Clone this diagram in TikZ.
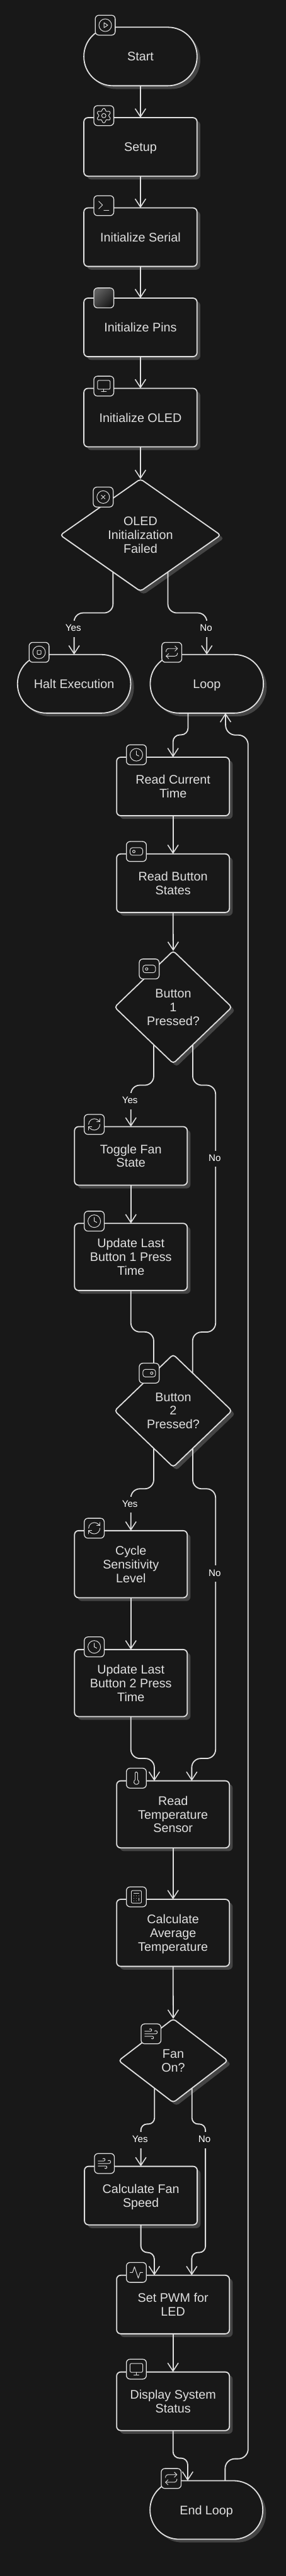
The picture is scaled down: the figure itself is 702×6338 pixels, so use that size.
\documentclass[tikz,border=0pt]{standalone}
\usepackage{fontspec}
\setmainfont{Liberation Sans}
\usetikzlibrary{arrows.meta,shapes.geometric,svg.path,calc}
\definecolor{bgc}{HTML}{181818}
\definecolor{fgc}{HTML}{E0E0E0}
\definecolor{shc}{HTML}{444444}
\pgfdeclarelayer{back}
\pgfdeclarelayer{edges}
\pgfsetlayers{back,edges,main}
\tikzset{
  x=1pt,y=-1pt,
  every node/.style={font=\fontsize{30.6}{33.8}\selectfont,text=fgc,inner sep=0pt,outer sep=0pt},
  rectbox/.style={rectangle,rounded corners=10pt},
  pill/.style={rectangle,rounded corners=71.5pt},
  decision/.style={diamond,rounded corners=7pt,aspect=#1},
  visible/.style={draw=fgc,line width=2.8pt,fill=bgc,align=center},
  shadowed/.style={fill=shc},
  edge/.style={draw=fgc,line width=2.8pt,-{Straight Barb[length=20pt,width=26pt,line width=2.4pt]}},
  edgelabel/.style={font=\fontsize{23.5}{26}\selectfont,fill=bgc,text=white,minimum height=40pt,minimum width=10pt,inner xsep=3pt},
  iconbox/.style={draw=fgc,line width=2pt,fill=bgc,rounded corners=9pt,minimum width=49pt,minimum height=49pt},
  glyph/.style={draw=fgc,line width=1.5pt,line cap=round,line join=round},
}
\newcommand\nd[1]{\raisebox{0pt}[\height][0pt]{#1}}
\newcommand\flownode[7]{%
  \begin{pgfonlayer}{back}
    \node[#2,shadowed,minimum width=#5pt,minimum height=#6pt] (#1-sh) at (#3+8,#4+8) {};
  \end{pgfonlayer}
  \node[#2,visible,minimum width=#5pt,minimum height=#6pt] (#1) at (#3,#4) {#7};}
\newcommand\iconat[4]{%
  \node[iconbox] (#1) at (#2,#3) {};
  \begin{scope}[shift={(#2,#3)},xscale=1.55,yscale=1.55,shift={(-12pt,12pt)},yscale=-1]
    #4
  \end{scope}}
\newcommand\icirc[1][10]{\draw[glyph] (12pt,12pt) circle[radius=#1pt];}
\newcommand\gl[1]{\draw[glyph] svg {#1};}
\newcommand\iplay{\icirc\gl{M 10 8 L 16 12 L 10 16 Z}}
\newcommand\igear{\begin{scope}[shift={(12pt,12pt)},scale=1.14,shift={(-12pt,-12pt)}]\gl{M 12.22 2 h -0.44 a 2 2 0 0 0 -2 2 v 0.18 a 2 2 0 0 1 -1 1.73 l -0.43 0.25 a 2 2 0 0 1 -2 0 l -0.15 -0.08 a 2 2 0 0 0 -2.73 0.73 l -0.22 0.38 a 2 2 0 0 0 0.73 2.73 l 0.15 0.1 a 2 2 0 0 1 1 1.72 v 0.51 a 2 2 0 0 1 -1 1.74 l -0.15 0.09 a 2 2 0 0 0 -0.73 2.73 l 0.22 0.38 a 2 2 0 0 0 2.73 0.73 l 0.15 -0.08 a 2 2 0 0 1 2 0 l 0.43 0.25 a 2 2 0 0 1 1 1.73 V 20 a 2 2 0 0 0 2 2 h 0.44 a 2 2 0 0 0 2 -2 v -0.18 a 2 2 0 0 1 1 -1.73 l 0.43 -0.25 a 2 2 0 0 1 2 0 l 0.15 0.08 a 2 2 0 0 0 2.73 -0.73 l 0.22 -0.39 a 2 2 0 0 0 -0.73 -2.73 l -0.15 -0.08 a 2 2 0 0 1 -1 -1.74 v -0.5 a 2 2 0 0 1 1 -1.74 l 0.15 -0.09 a 2 2 0 0 0 0.73 -2.73 l -0.22 -0.38 a 2 2 0 0 0 -2.73 -0.73 l -0.15 0.08 a 2 2 0 0 1 -2 0 l -0.43 -0.25 a 2 2 0 0 1 -1 -1.73 V 4 a 2 2 0 0 0 -2 -2 Z}\icirc[3]\end{scope}}
\newcommand\iterm{\gl{M 4 17 L 10 11 L 4 5}\gl{M 12 19 L 20 19}}
\newcommand\imon{\draw[glyph,rounded corners=3.2pt] (2pt,3pt) rectangle (22pt,17pt);\gl{M 8 21 L 16 21}\gl{M 12 17 L 12 21}}
\newcommand\ix{\icirc\gl{M 15 9 L 9 15}\gl{M 9 9 L 15 15}}
\newcommand\istop{\icirc\draw[glyph,rounded corners=1pt] (9pt,9pt) rectangle (15pt,15pt);}
\newcommand\irep{\gl{M 17 2 L 21 6 L 17 10}\gl{M 3 11 V 10 A 4 4 0 0 1 7 6 H 21}\gl{M 7 22 L 3 18 L 7 14}\gl{M 21 13 V 14 A 4 4 0 0 1 17 18 H 3}}
\newcommand\iclock{\icirc\gl{M 12 6 L 12 12 L 16 14}}
\newcommand\itogleft{\draw[glyph,rounded corners=5.9pt] (2pt,6pt) rectangle (22pt,18pt);\draw[glyph] (8pt,12pt) circle[radius=2pt];}
\newcommand\itogright{\draw[glyph,rounded corners=5.9pt] (2pt,6pt) rectangle (22pt,18pt);\draw[glyph] (16pt,12pt) circle[radius=2pt];}
\newcommand\irefresh{\gl{M 3 12 A 9 9 0 0 1 12 3 A 9.75 9.75 0 0 1 18.74 5.74 L 21 8}\gl{M 21 3 V 8 H 16}\gl{M 21 12 A 9 9 0 0 1 12 21 A 9.75 9.75 0 0 1 5.26 18.26 L 3 16}\gl{M 8 16 H 3 V 21}}
\newcommand\itherm{\gl{M 14 4 V 14.54 A 4 4 0 1 1 10 14.54 V 4 A 2 2 0 0 1 14 4 Z}}
\newcommand\icalc{\draw[glyph,rounded corners=3.2pt] (4pt,2pt) rectangle (20pt,22pt);\gl{M 8 6 L 16 6}\gl{M 16 14 L 16 18}\gl{M 16 10 h 0.01}\gl{M 12 10 h 0.01}\gl{M 8 10 h 0.01}\gl{M 12 14 h 0.01}\gl{M 8 14 h 0.01}\gl{M 12 18 h 0.01}\gl{M 8 18 h 0.01}}
\newcommand\iwind{\gl{M 17.7 7.7 A 2.5 2.5 0 1 1 19.5 12 H 2}\gl{M 9.6 4.6 A 2 2 0 1 1 11 8 H 2}\gl{M 12.6 19.4 A 2 2 0 1 0 14 16 H 2}}
\newcommand\iact{\gl{M 22 12 L 18 12 L 15 21 L 9 3 L 6 12 L 2 12}}
\newcommand\sbend[4][22]{%
  \begin{pgfonlayer}{edges}
    \coordinate (q) at #4;
    \draw[edge,rounded corners=#1pt] #2 coordinate (p) -- (p |- 0,#3) coordinate (m) -- (m -| q) -- (q);
  \end{pgfonlayer}}
\newcommand\straight[2]{%
  \begin{pgfonlayer}{edges}\draw[edge] (#1) -- (#2);\end{pgfonlayer}}
\newcommand\edgetext[4]{%
  \begin{pgfonlayer}{edges}\node[edgelabel] (#1) at (#2,#3) {\raisebox{3.5pt}{#4}};\end{pgfonlayer}}
\begin{document}
\begin{tikzpicture}
\useasboundingbox (0,0) rectangle (702,6338);
\begin{pgfonlayer}{back}\fill[bgc] (0,0) rectangle (702,6338);\end{pgfonlayer}

\flownode{start}{pill}{345}{139}{278}{144}{Start}
\flownode{setup}{rectbox}{345}{361.5}{278}{144}{\nd{Setup}}
\flownode{serial}{rectbox}{345}{583.5}{278}{144}{Initialize Serial}
\flownode{pins}{rectbox}{345}{805.5}{278}{144}{Initialize Pins}
\flownode{oled}{rectbox}{345}{1027.5}{278}{144}{Initialize OLED}
\flownode{fail}{decision=1.43}{345}{1316.6}{394}{276}{OLED\\Initialization\\Failed}
\flownode{halt}{pill}{182}{1682.5}{278}{144}{Halt Execution}
\flownode{loop}{pill}{508}{1682.5}{278}{144}{\nd{Loop}}
\flownode{rtime}{rectbox}{425}{1935}{277}{144}{Read Current\\Time}
\flownode{rbtn}{rectbox}{425}{2173}{277}{144}{Read Button\\States}
\flownode{btna}{decision=1.04}{425.5}{2478}{288}{277}{Button\\1\\Pressed?}
\flownode{fan}{rectbox}{321.5}{2844}{277}{144}{Toggle Fan\\State}
\flownode{upa}{rectbox}{321.5}{3092.5}{277}{165}{Update Last\\Button 1 Press\\Time}
\flownode{btnb}{decision=1.04}{425.5}{3471}{288}{277}{Button\\2\\Pressed?}
\flownode{cyc}{rectbox}{321.5}{3848.5}{277}{165}{Cycle\\Sensitivity\\Level}
\flownode{upb}{rectbox}{321.5}{4141}{277}{165}{Update Last\\Button 2 Press\\Time}
\flownode{temp}{rectbox}{425}{4464}{277}{165}{Read\\Temperature\\Sensor}
\flownode{avg}{rectbox}{425}{4755.5}{277}{165}{Calculate\\Average\\\nd{Temperature}}
\flownode{fanon}{decision=1.3}{425.5}{5070}{268}{206}{Fan\\On?}
\flownode{speed}{rectbox}{346}{5402}{277}{144}{Calculate Fan\\\nd{Speed}}
\flownode{pwm}{rectbox}{425}{5670}{277}{144}{Set PWM for\\LED}
\flownode{disp}{rectbox}{425}{5908}{277}{144}{Display System\\Status}
\flownode{end}{pill}{507}{6175.5}{277}{144}{\nd{End Loop}}

\straight{start.south}{setup.north}
\straight{setup.south}{serial.north}
\straight{serial.south}{pins.north}
\straight{pins.south}{oled.north}
\straight{oled.south}{fail.north}
\sbend{([xshift=-67.4pt]fail.center)}{1508}{(halt.north)}
\sbend{([xshift=67.4pt]fail.center)}{1508}{(loop.north)}
\edgetext{ya}{180}{1547}{Yes}
\edgetext{na}{506}{1547}{No}
\sbend[17]{([xshift=-46pt]loop.center)}{1808}{(rtime.north)}
\straight{rtime.south}{rbtn.north}
\straight{rbtn.south}{btna.north}
\sbend{([xshift=-48pt]btna.center)}{2670}{(fan.north)}
\edgetext{yb}{319}{2709}{Yes}
\begin{pgfonlayer}{edges}
  \draw[edge,rounded corners=22pt] ([xshift=48pt]btna.center) -- ++(0,192) -- ++(56,0) -- ++(0,607.4) -- ++(-56.5,0) -- ([xshift=48pt,yshift=-90pt]btnb.center);
  \draw[edge,rounded corners=22pt] ([xshift=48pt]btnb.center) -- ++(0,192) -- ++(56,0) -- ++(0,663.5) -- ++(-58.5,0) -- ([xshift=46pt]temp.north);
  \draw[edge,rounded corners=15pt] ([xshift=46pt]fanon.center) -- ++(0,156) -- ++(33.1,0) -- ++(0,316) -- ([xshift=46pt]pwm.north |- 0,5542) -- ([xshift=46pt]pwm.north);
\end{pgfonlayer}
\edgetext{nb}{527.4}{2851}{No}
\straight{fan.south}{upa.north}
\sbend{(upa.center)}{3277}{([xshift=-48pt,yshift=-88pt]btnb.center)}
\sbend{([xshift=-48pt]btnb.center)}{3663}{(cyc.north)}
\edgetext{yc}{319}{3702}{Yes}
\edgetext{nc}{527.4}{3872}{No}
\straight{cyc.south}{upb.north}
\sbend{(upb.center)}{4326.5}{([xshift=-46pt]temp.north)}
\straight{temp.south}{avg.north}
\straight{avg.south}{fanon.north}
\sbend[15]{([xshift=-46pt]fanon.center)}{5226}{(speed.north)}
\edgetext{yd}{344}{5265}{Yes}
\sbend[16]{(speed.center)}{5542}{([xshift=-46pt]pwm.north)}
\edgetext{nd}{502.3}{5265}{No}
\straight{pwm.south}{disp.north}
\sbend[16]{(disp.center)}{6048}{([xshift=-46pt]end.north)}
\begin{pgfonlayer}{edges}
  \draw[edge,rounded corners=24pt] ([xshift=46pt]end.north) -- ++(0,-54) -- ++(56.4,0) -- ++(0,-4241) -- ++(-55,0) -- (loop.south -| 553.8,0);
\end{pgfonlayer}

\iconat{istart}{258.5}{62}{\iplay}
\iconat{isetup}{255}{284.5}{\igear}
\iconat{iserial}{255}{506}{\iterm}
\node[iconbox,shade,left color=shc!85,right color=bgc,shading angle=45,draw=fgc] (ipins) at (255,733) {};
\iconat{ioled}{255}{950}{\imon}
\iconat{ifail}{253.5}{1223}{\ix}
\iconat{ihalt}{96}{1605}{\istop}
\iconat{iloop}{422}{1605}{\irep}
\iconat{irtime}{335}{1857}{\iclock}
\iconat{irbtn}{335}{2095}{\itogleft}
\iconat{ibtna}{366.5}{2384}{\itogleft}
\iconat{ifan}{231.5}{2766.5}{\irefresh}
\iconat{iupa}{231.5}{3004.5}{\iclock}
\iconat{ibtnb}{366.5}{3378.5}{\itogright}
\iconat{icyc}{231.5}{3760}{\irefresh}
\iconat{iupb}{231.5}{4052}{\iclock}
\iconat{itemp}{335}{4375}{\itherm}
\iconat{iavg}{335}{4667}{\icalc}
\iconat{ifanon}{371}{5004}{\iwind}
\iconat{ispeed}{256.5}{5323}{\iwind}
\iconat{ipwm}{335}{5591}{\iact}
\iconat{idisp}{335}{5829}{\imon}
\iconat{iend}{420.5}{6098}{\irep}
\end{tikzpicture}
\end{document}
